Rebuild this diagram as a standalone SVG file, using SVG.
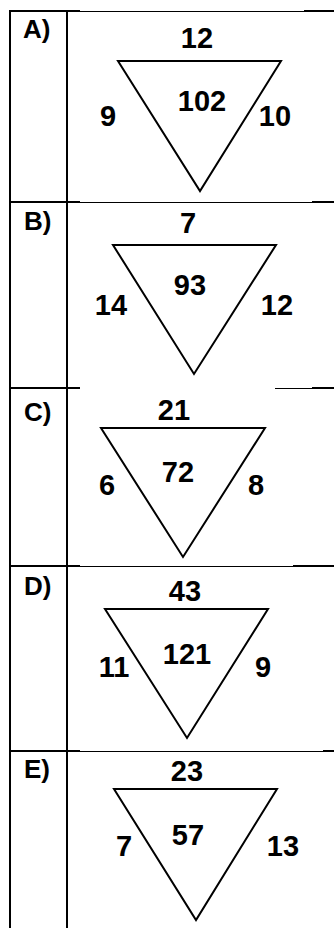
<svg xmlns="http://www.w3.org/2000/svg" width="334" height="928" viewBox="0 0 334 928">
<style>
.thick{stroke:#000;stroke-width:2;fill:none}
.thin{stroke:#000;stroke-width:1;fill:none}
.tri{stroke:#000;stroke-width:2;fill:#fff;stroke-linejoin:miter}
.n{font-family:"Liberation Sans",Arial,sans-serif;font-weight:bold;font-size:29px;fill:#000;text-anchor:middle}
.lab{font-family:"Liberation Sans",Arial,sans-serif;font-weight:bold;font-size:26px;fill:#000}
</style>
<rect width="334" height="928" fill="#fff"/>
<g id="grid">
<line class="thick" x1="10" y1="10" x2="10" y2="928"/>
<line class="thick" x1="67" y1="10" x2="67" y2="928"/>
<line class="thick" x1="9" y1="11" x2="80" y2="11"/>
<line class="thin" x1="80" y1="11.5" x2="304" y2="11.5"/>
<line class="thick" x1="304" y1="11" x2="334" y2="11"/>
<line class="thick" x1="9" y1="202" x2="80" y2="202"/>
<line class="thin" x1="80" y1="202.5" x2="312" y2="202.5"/>
<line class="thick" x1="312" y1="202" x2="334" y2="202"/>
<line class="thick" x1="9" y1="388" x2="80" y2="388"/>
<line class="thin" x1="275" y1="388.5" x2="312" y2="388.5"/>
<line class="thick" x1="312" y1="388" x2="334" y2="388"/>
<line class="thick" x1="9" y1="566" x2="80" y2="566"/>
<line class="thin" x1="80" y1="566.5" x2="293" y2="566.5"/>
<line class="thick" x1="293" y1="566" x2="334" y2="566"/>
<line class="thick" x1="9" y1="751" x2="80" y2="751"/>
<line class="thin" x1="80" y1="751.5" x2="323" y2="751.5"/>
<line class="thick" x1="323" y1="751" x2="334" y2="751"/>
</g>
<g id="A">
<text class="lab" x="23" y="38">A)</text>
<polygon class="tri" points="118,61 281,61 200,191"/>
<text class="n" x="197" y="48">12</text>
<text class="n" x="202" y="111">102</text>
<text class="n" x="108" y="126">9</text>
<text class="n" x="275" y="126">10</text>
</g>
<g id="B">
<text class="lab" x="24" y="230">B)</text>
<polygon class="tri" points="113,245 276,245 194,374"/>
<text class="n" x="188" y="233">7</text>
<text class="n" x="190" y="295">93</text>
<text class="n" x="111" y="315">14</text>
<text class="n" x="277" y="315">12</text>
</g>
<g id="C">
<text class="lab" x="24" y="421">C)</text>
<polygon class="tri" points="101,428 265,428 183,557"/>
<text class="n" x="174" y="420">21</text>
<text class="n" x="178" y="482">72</text>
<text class="n" x="107" y="495">6</text>
<text class="n" x="256" y="495">8</text>
</g>
<g id="D">
<text class="lab" x="24" y="595">D)</text>
<polygon class="tri" points="105,609 268,609 187,738"/>
<text class="n" x="185" y="601">43</text>
<text class="n" x="187" y="664">121</text>
<text class="n" x="114" y="677">11</text>
<text class="n" x="263" y="677">9</text>
</g>
<g id="E">
<text class="lab" x="24" y="778">E)</text>
<polygon class="tri" points="114,789 277,789 196,920"/>
<text class="n" x="187" y="781">23</text>
<text class="n" x="188" y="845">57</text>
<text class="n" x="124" y="856">7</text>
<text class="n" x="283" y="856">13</text>
</g>
</svg>
